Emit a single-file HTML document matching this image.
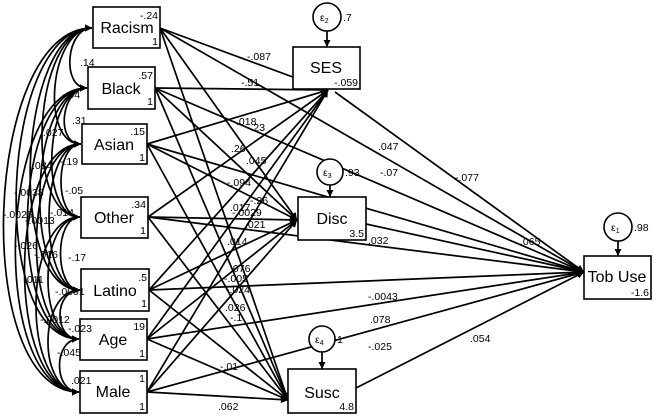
<!DOCTYPE html>
<html><head><meta charset="utf-8"><style>
html,body{margin:0;padding:0;background:#fff}
svg{display:block;font-family:"Liberation Sans",Arial,sans-serif}
.s{font-size:10.5px}
.b{font-size:16px}
</style></head><body>
<svg width="654" height="416" viewBox="0 0 654 416">
<defs>
<marker id="a" viewBox="0 0 10 10" refX="10" refY="5" markerWidth="9" markerHeight="7" orient="auto-start-reverse" markerUnits="userSpaceOnUse"><path d="M0 0L10 5L0 10z" fill="#000"/></marker>
</defs>
<g fill="none" stroke="#000" stroke-width="1.7" marker-start="url(#a)" marker-end="url(#a)">
<path d="M92 28 C66 28 61 88 87 88"/>
<path d="M92 28 C50 28 39 144 81 144"/>
<path d="M92 28 C34 28 22 217 80 217"/>
<path d="M92 28 C18 28 6 290 80 290"/>
<path d="M92 28 C0 28 -13 339 79 339"/>
<path d="M92 28 C-17 28 -30 392 79 392"/>
<path d="M87 88 C61 88 55 144 81 144"/>
<path d="M87 88 C45 88 38 217 80 217"/>
<path d="M87 88 C29 88 22 290 80 290"/>
<path d="M87 88 C13 88 5 339 79 339"/>
<path d="M87 88 C-3 88 -11 392 79 392"/>
<path d="M81 144 C55 144 54 217 80 217"/>
<path d="M81 144 C39 144 38 290 80 290"/>
<path d="M81 144 C23 144 21 339 79 339"/>
<path d="M81 144 C7 144 5 392 79 392"/>
<path d="M80 217 C54 217 54 290 80 290"/>
<path d="M80 217 C38 217 37 339 79 339"/>
<path d="M80 217 C22 217 21 392 79 392"/>
<path d="M80 290 C54 290 53 339 79 339"/>
<path d="M80 290 C38 290 37 392 79 392"/>
<path d="M79 339 C53 339 53 392 79 392"/>
</g>
<g stroke="#000" stroke-width="1.7" marker-end="url(#a)">
<line x1="160" y1="28" x2="328" y2="90"/><line x1="160" y1="28" x2="297" y2="220"/><line x1="160" y1="28" x2="288" y2="400"/><line x1="160" y1="28" x2="584" y2="272"/>
<line x1="155" y1="88" x2="328" y2="90"/><line x1="155" y1="88" x2="297" y2="220"/><line x1="155" y1="88" x2="288" y2="400"/><line x1="155" y1="88" x2="584" y2="272"/>
<line x1="147" y1="144" x2="328" y2="90"/><line x1="147" y1="144" x2="297" y2="220"/><line x1="147" y1="144" x2="288" y2="400"/><line x1="147" y1="144" x2="584" y2="272"/>
<line x1="148" y1="217" x2="328" y2="90"/><line x1="148" y1="217" x2="297" y2="220"/><line x1="148" y1="217" x2="288" y2="400"/><line x1="148" y1="217" x2="584" y2="272"/>
<line x1="149" y1="290" x2="328" y2="90"/><line x1="149" y1="290" x2="297" y2="220"/><line x1="149" y1="290" x2="288" y2="400"/><line x1="149" y1="290" x2="584" y2="272"/>
<line x1="147" y1="339" x2="328" y2="90"/><line x1="147" y1="339" x2="297" y2="220"/><line x1="147" y1="339" x2="288" y2="400"/><line x1="147" y1="339" x2="584" y2="272"/>
<line x1="147" y1="392" x2="328" y2="90"/><line x1="147" y1="392" x2="297" y2="220"/><line x1="147" y1="392" x2="288" y2="400"/><line x1="147" y1="392" x2="584" y2="272"/>
<line x1="335" y1="92" x2="584" y2="272"/><line x1="366" y1="224" x2="584" y2="272"/><line x1="356" y1="388" x2="584" y2="272"/>
<line x1="327" y1="31" x2="327" y2="47"/><line x1="330" y1="185" x2="330" y2="197"/><line x1="322" y1="352" x2="322" y2="369"/><line x1="618" y1="241" x2="618" y2="256"/>
</g>
<g fill="#fff" stroke="#000" stroke-width="1.6">
<rect x="93" y="7" width="67" height="41"/>
<rect x="88" y="67" width="67" height="42"/>
<rect x="82" y="124" width="65" height="40"/>
<rect x="81" y="197" width="67" height="41"/>
<rect x="81" y="269" width="68" height="42"/>
<rect x="80" y="319" width="67" height="41"/>
<rect x="80" y="371" width="67" height="42"/>
<rect x="293" y="47" width="67" height="42"/>
<rect x="298" y="197" width="68" height="43"/>
<rect x="288" y="369" width="68" height="44"/>
<rect x="584" y="256" width="67" height="43"/>
<circle cx="327" cy="17" r="14"/><circle cx="330" cy="172" r="13"/><circle cx="322" cy="339" r="13"/><circle cx="618" cy="227" r="14"/>
</g>
<g class="b" text-anchor="middle">
<text x="127" y="33">Racism</text><text x="121" y="94">Black</text><text x="114" y="150">Asian</text>
<text x="114" y="223">Other</text><text x="115" y="296">Latino</text><text x="113" y="345">Age</text><text x="113" y="397">Male</text>
<text x="326" y="73">SES</text><text x="332" y="224">Disc</text><text x="322" y="398">Susc</text><text x="617" y="282">Tob Use</text>
</g>
<g class="s" text-anchor="end">
<text x="158" y="19">-.24</text><text x="158" y="45">1</text>
<text x="153" y="79">.57</text><text x="153" y="105">1</text>
<text x="145" y="135">.15</text><text x="145" y="161">1</text>
<text x="146" y="208">.34</text><text x="146" y="234">1</text>
<text x="147" y="281">.5</text><text x="147" y="307">1</text>
<text x="145" y="330">19</text><text x="145" y="357">1</text>
<text x="145" y="382">1</text><text x="145" y="410">1</text>
<text x="358" y="86">-.059</text><text x="364" y="237">3.5</text><text x="354" y="410">4.8</text><text x="649" y="296">-1.6</text>
</g>
<g class="s">
<text x="320" y="21">ε<tspan font-size="7" dy="2">2</tspan></text><text x="343" y="21">.7</text>
<text x="323" y="176">ε<tspan font-size="7" dy="2">3</tspan></text><text x="345" y="176">.93</text>
<text x="315" y="343">ε<tspan font-size="7" dy="2">4</tspan></text><text x="337" y="343">1</text>
<text x="611" y="231">ε<tspan font-size="7" dy="2">1</tspan></text><text x="634" y="231">.98</text>
<text x="247" y="60">-.087</text><text x="241" y="86">-.51</text>
<text x="236" y="125">.018</text><text x="247" y="131">-.23</text>
<text x="231" y="152">.26</text><text x="246" y="164">.045</text>
<text x="227" y="186">-.094</text><text x="250" y="204">-.26</text>
<text x="230" y="211">.017</text><text x="232" y="216">-.0029</text>
<text x="245" y="228">.021</text><text x="227" y="245">.014</text>
<text x="230" y="272">.076</text><text x="224" y="282">-.005</text><text x="226" y="293">-.024</text>
<text x="225" y="311">.026</text><text x="230" y="321">-.1</text>
<text x="220" y="370">-.01</text><text x="218" y="410">.062</text>
<text x="378" y="150">.047</text><text x="380" y="176">-.07</text><text x="368" y="244">.032</text>
<text x="455" y="181">-.077</text><text x="520" y="245">.065</text>
<text x="368" y="300">-.0043</text><text x="370" y="323">.078</text><text x="368" y="350">-.025</text><text x="470" y="342">.054</text>
<text x="80" y="66">.14</text><text x="62" y="98">-.04</text><text x="72" y="124">.31</text><text x="43" y="136">.027</text>
<text x="32" y="169">.084</text><text x="60" y="165">-.19</text><text x="14" y="196">-.0038</text><text x="65" y="194">-.05</text>
<text x="3" y="218">-.0026</text><text x="25" y="224">-.0013</text><text x="50" y="216">-.014</text>
<text x="14" y="249">-.026</text><text x="34" y="258">-.016</text><text x="68" y="261">-.17</text>
<text x="24" y="283">.011</text><text x="55" y="295">-.0091</text><text x="40" y="323">-.0012</text>
<text x="68" y="332">-.023</text><text x="57" y="356">-.045</text><text x="71" y="384">.021</text>
</g>
</svg>
</body></html>
